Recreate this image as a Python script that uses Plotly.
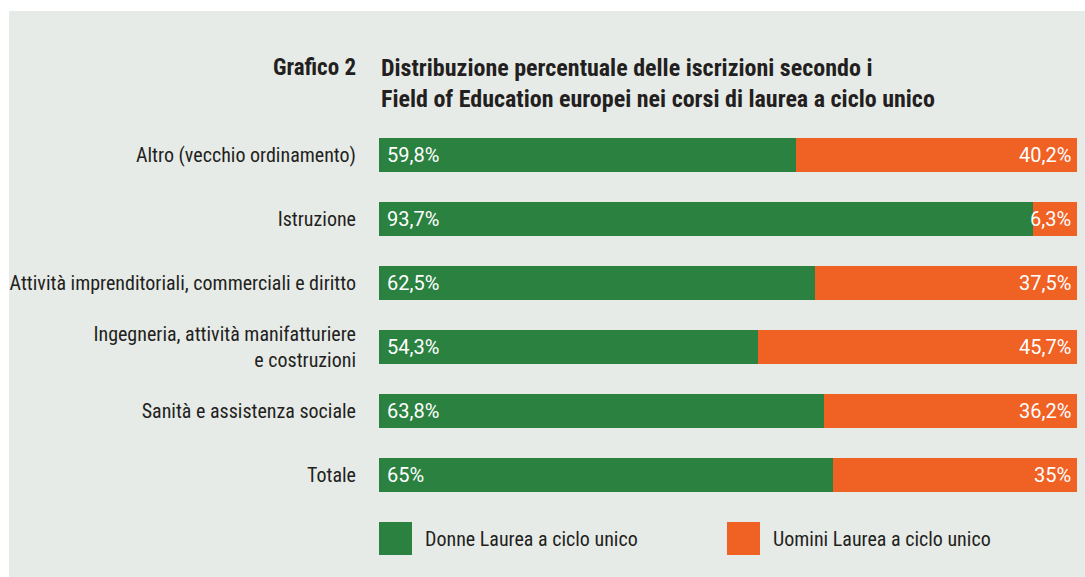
import plotly.graph_objects as go

categories = [
    "Altro (vecchio ordinamento)",
    "Istruzione",
    "Attività imprenditoriali, commerciali e diritto",
    "Ingegneria, attività manifatturiere<br>e costruzioni",
    "Sanità e assistenza sociale",
    "Totale",
]
donne = [59.8, 93.7, 62.5, 54.3, 63.8, 65.0]
uomini = [40.2, 6.3, 37.5, 45.7, 36.2, 35.0]
series_names = ["Donne Laurea a ciclo unico", "Uomini Laurea a ciclo unico"]
title_left = "Grafico 2"
title_lines = ["Distribuzione percentuale delle iscrizioni secondo i",
               "Field of Education europei nei corsi di laurea a ciclo unico"]

GREEN = "#2a8140"
ORANGE = "#f06124"
BG = "#e7ebe8"
TXT = "#231f20"
FONT = "Liberation Sans Narrow, Arial Narrow, Roboto Condensed, DejaVu Sans Condensed, sans-serif"
VFONT = "Roboto, Arial, sans-serif"

W, H = 1085, 577
L, R, T, B = 379, 8, 123, 70
PW, PH = W - L - R, H - T - B


def px(x):
    return (x - L) / PW


def py(y):
    return 1 - (y - T) / PH


def fmt(v):
    s = f"{v:.1f}".replace(".", ",")
    if s.endswith(",0"):
        s = s[:-2]
    return s + "%"


fig = go.Figure()
fig.add_trace(go.Bar(y=categories, x=donne, orientation="h", name=series_names[0],
                     marker=dict(color=GREEN, line=dict(width=0)), width=0.52,
                     showlegend=False, hoverinfo="x+y"))
fig.add_trace(go.Bar(y=categories, x=uomini, orientation="h", name=series_names[1],
                     marker=dict(color=ORANGE, line=dict(width=0)), width=0.52,
                     showlegend=False, hoverinfo="x+y"))

annotations = []
for c, d, u in zip(categories, donne, uomini):
    annotations.append(dict(x=0, y=c, xref="x", yref="y", text=fmt(d), showarrow=False,
                            xanchor="left", xshift=6, font=dict(color="white", size=20, family=VFONT)))
    annotations.append(dict(x=d + u, y=c, xref="x", yref="y", text=fmt(u), showarrow=False,
                            xanchor="right", xshift=-4, font=dict(color="white", size=20, family=VFONT)))

# Title
annotations.append(dict(x=px(358), y=py(68), xref="paper", yref="paper", text="<b>" + title_left + "</b>",
                        showarrow=False, xanchor="right", yanchor="middle",
                        font=dict(size=23, color=TXT, family=FONT)))
for i, line in enumerate(title_lines):
    annotations.append(dict(x=px(379), y=py(68 + 31 * i), xref="paper", yref="paper",
                            text="<b>" + line + "</b>",
                            showarrow=False, xanchor="left", yanchor="middle", align="left",
                            font=dict(size=24, color=TXT, family=FONT)))

# Background panel and custom legend
shapes = [dict(type="rect", xref="paper", yref="paper", x0=px(9), x1=px(1085), y0=py(11), y1=py(577),
               fillcolor=BG, line=dict(width=0), layer="below")]
legend_pos = [(379, GREEN, series_names[0]), (727, ORANGE, series_names[1])]
for x0, col, name in legend_pos:
    shapes.append(dict(type="rect", xref="paper", yref="paper", x0=px(x0), x1=px(x0 + 33),
                       y0=py(522), y1=py(555), fillcolor=col, line=dict(width=0)))
    annotations.append(dict(x=px(x0 + 44), y=py(539), xref="paper", yref="paper", text=name,
                            showarrow=False, xanchor="left", yanchor="middle",
                            font=dict(size=20, color=TXT, family=FONT)))

fig.update_layout(
    width=W, height=H,
    margin=dict(l=L, r=R, t=T, b=B, autoexpand=False),
    paper_bgcolor="white", plot_bgcolor="rgba(0,0,0,0)",
    barmode="stack", bargap=0.48,
    font=dict(family=FONT, color=TXT, size=20),
    xaxis=dict(range=[0, 100], visible=False, fixedrange=True, automargin=False),
    yaxis=dict(autorange="reversed", showgrid=False, zeroline=False, showline=False,
               automargin=False, ticks="", ticklabelstandoff=22,
               tickfont=dict(size=20, color=TXT, family=FONT)),
    shapes=shapes,
    annotations=annotations,
    showlegend=False,
)

fig.write_html("out.html", config={"displayModeBar": False},
               post_script="document.body.style.margin='0px';document.body.style.overflow='hidden';")
